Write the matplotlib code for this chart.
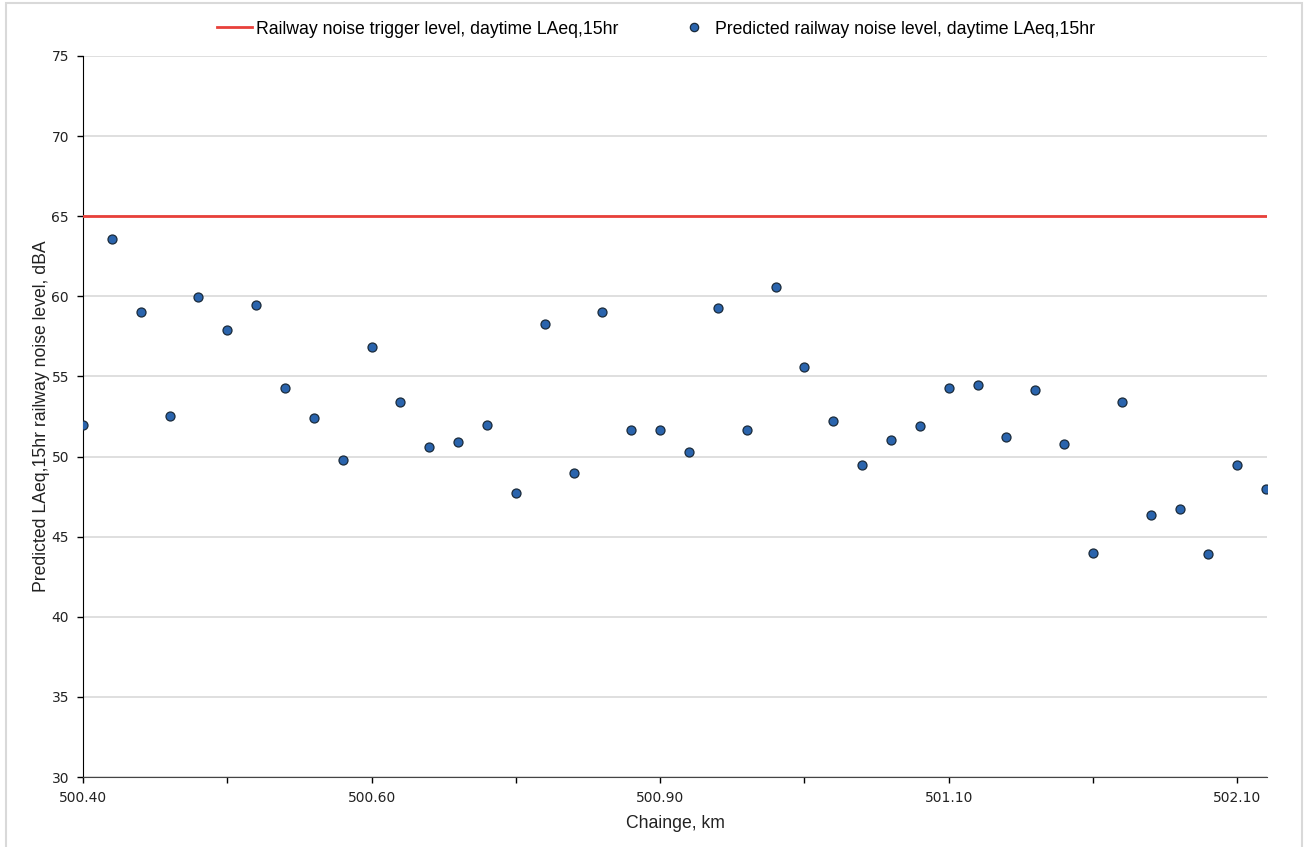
import matplotlib
matplotlib.use("Agg")
import matplotlib.pyplot as plt
from matplotlib.patches import Rectangle
from matplotlib.lines import Line2D

# Data
predicted = [52.0, 63.6, 59.0, 52.5, 59.95, 57.9, 59.45, 54.3, 52.4, 49.8,
             56.85, 53.4, 50.6, 50.9, 51.95, 47.7, 58.3, 48.95, 59.05, 51.65,
             51.65, 50.3, 59.3, 51.65, 60.6, 55.6, 52.2, 49.5, 51.05, 51.9,
             54.3, 54.45, 51.2, 54.15, 50.8, 44.0, 53.4, 46.35, 46.7, 43.9,
             49.5, 48.0]
trigger_level = 65
tick_labels = ["500.40", "", "500.60", "", "500.90", "", "501.10", "", "502.10"]
y_ticks = [30, 35, 40, 45, 50, 55, 60, 65, 70, 75]

label_trigger = "Railway noise trigger level, daytime LAeq,15hr"
label_pred = "Predicted railway noise level, daytime LAeq,15hr"

fig = plt.figure(figsize=(13.04, 8.47), dpi=100)
ax = fig.add_axes([83/1304, 70/847, 1184/1304, 721/847])

x = list(range(len(predicted)))
ax.axhline(trigger_level, color="#e8403a", lw=2, zorder=3)
ax.scatter(x, predicted, s=42, color="#2a64ad", edgecolors="#1a2a3a",
           linewidths=0.9, zorder=4)

ax.set_ylim(30, 75)
ax.set_yticks(y_ticks)
ax.set_xlim(0, len(predicted) - 0.97)
ax.set_xticks(list(range(0, len(predicted), 5)))
ax.set_xticklabels(tick_labels)

ax.grid(axis="y", color="#d9d9d9", lw=1.2, zorder=0)
ax.set_axisbelow(True)
for s in ["top", "right"]:
    ax.spines[s].set_visible(False)
ax.spines["left"].set_color("black")
ax.spines["bottom"].set_color("#444444")
ax.tick_params(axis="both", direction="out", length=4, width=1,
               labelsize=10, colors="black")
ax.tick_params(axis="x", pad=6)
ax.tick_params(axis="y", pad=6)
for lab in ax.get_xticklabels() + ax.get_yticklabels():
    lab.set_family("DejaVu Sans")
    lab.set_color("#222222")

ax.set_xlabel("Chainge, km", fontsize=12.7, family="Liberation Sans",
              color="#222222", labelpad=7)
ax.set_ylabel("Predicted LAeq,15hr railway noise level, dBA", fontsize=12.7,
              family="Liberation Sans", color="#222222", labelpad=1)

handles = [Line2D([0], [0], color="#e8403a", lw=2),
           Line2D([0], [0], marker="o", ls="none", markersize=6,
                  markerfacecolor="#2a64ad", markeredgecolor="#1a2a3a",
                  markeredgewidth=0.9)]
fig.legend(handles, [label_trigger, label_pred], loc="center",
           bbox_to_anchor=(656/1304, 1 - 29/847), ncol=2, frameon=False,
           prop={"family": "Liberation Sans", "size": 12.7},
           handlelength=2.0, handletextpad=0.2, columnspacing=3.3,
           borderpad=0, borderaxespad=0)

fig.patches.append(Rectangle((6/1304, -0.01), 1296/1304, 1.0 - 3/847 + 0.01,
                             transform=fig.transFigure, fill=False,
                             edgecolor="#d9d9d9", lw=1.5))

fig.savefig("out.png", dpi=100)
